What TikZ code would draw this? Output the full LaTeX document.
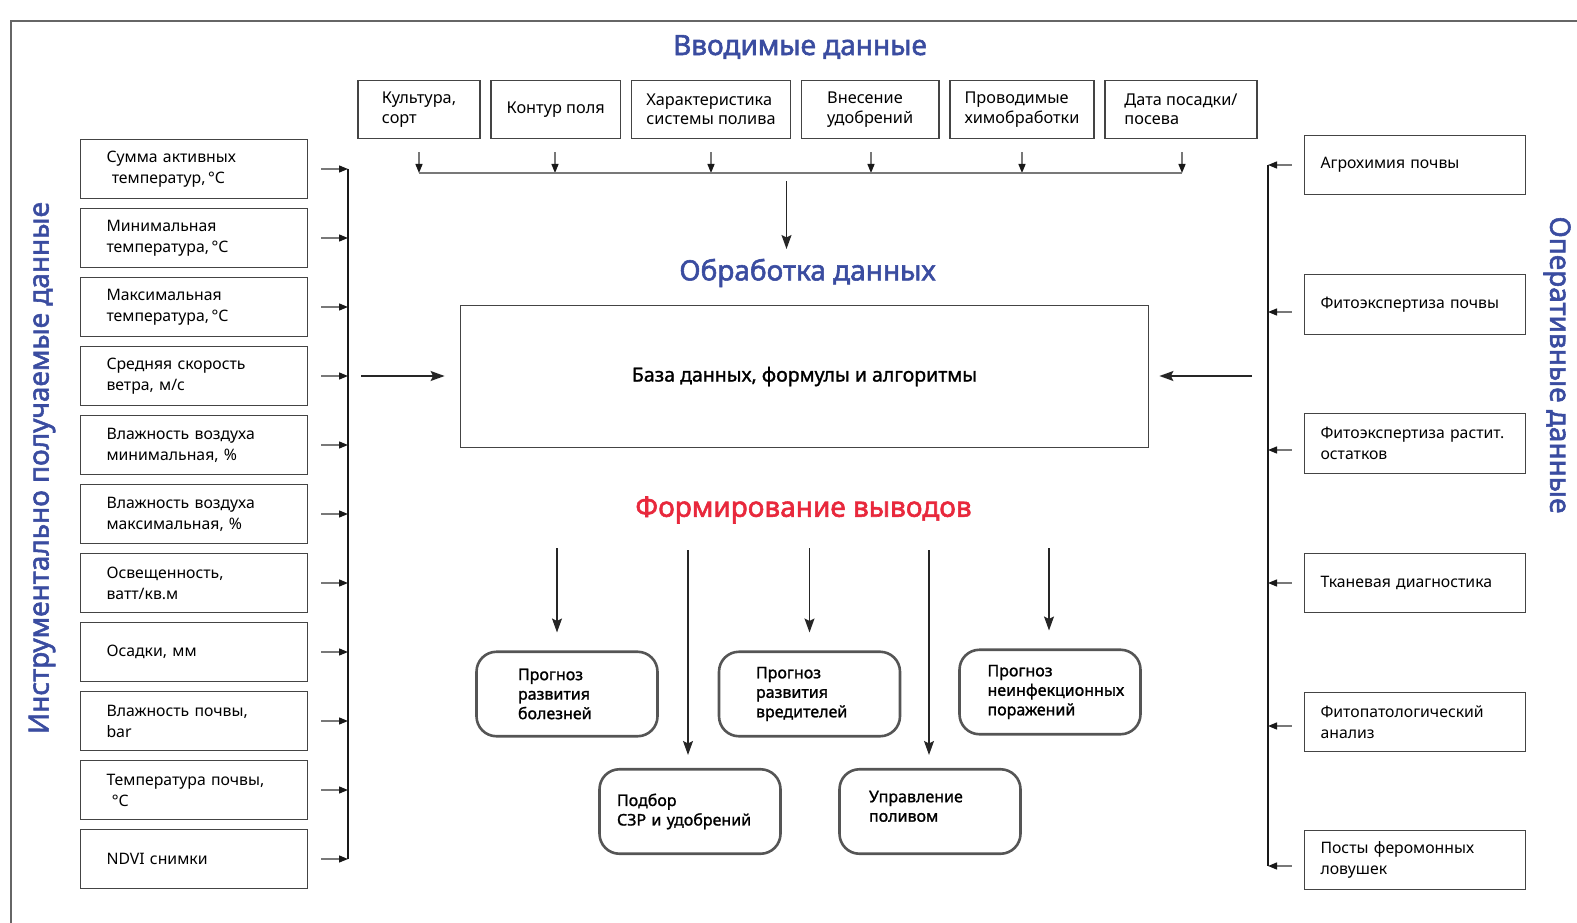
\documentclass[tikz,border=0pt]{standalone}
\usepackage{fontspec}
\setmainfont{Noto Sans}
\newfontfamily\medfont{Noto Sans}[FakeBold=1.3]
\newfontfamily\semifont{Noto Sans}[FakeBold=2]
\usetikzlibrary{arrows.meta}
\definecolor{tblue}{RGB}{58,76,160}
\definecolor{tred}{RGB}{232,40,60}
\definecolor{bord}{RGB}{68,68,68}
\definecolor{rbord}{RGB}{85,85,85}
\definecolor{lgray}{RGB}{120,120,120}
\begin{document}
\begin{tikzpicture}[x=1pt,y=-1pt,
  txt/.style={font=\fontsize{15.8}{21}\selectfont},
  lbox/.style={txt,draw=bord,line width=1.2pt,minimum width=227pt,minimum height=59.5pt,text width=175pt,align=left,inner sep=0pt},
  rbox/.style={txt,draw=bord,line width=1.2pt,minimum width=221pt,minimum height=59.5pt,text width=189pt,align=left,inner sep=0pt},
  tbox/.style={font=\fontsize{16.3}{19.5}\selectfont,draw=bord,line width=1.2pt,minimum height=58.5pt,align=left,inner sep=0pt},
  obox/.style={font=\medfont\fontsize{16}{19.5}\selectfont,draw=rbord,line width=2.6pt,rounded corners=20pt,minimum width=181pt,minimum height=84.5pt,align=left,inner sep=0pt},
  ttl/.style={font=\semifont\fontsize{28}{32}\selectfont,text=tblue},
  sarr/.style={draw=lgray,line width=1.3pt,-{Triangle[length=9pt,width=7pt,color=black!90]}},
  barr/.style={draw=black!85,line width=1.5pt,-{Stealth[length=14pt,width=10pt,inset=2.5pt]}},
  bus/.style={draw=black!90,line width=1.5pt},
  gbus/.style={draw=lgray,line width=1.8pt}]
\useasboundingbox (0,0) rectangle (1577,923);
% frame
\draw[draw=rbord!90,line width=1.8pt] (1577,21) -- (11,21) -- (11,923);

% titles
\node[ttl] (tin) at (800,47) {Вводимые данные};
\node[ttl] (tproc) at (807.5,273) {Обработка данных};
\node[ttl,text=tred] (tout) at (803.5,510) {Формирование выводов};
\node[ttl,rotate=90] (tleft) at (42,468) {Инструментально получаемые данные};
\node[ttl,rotate=-90] (tright) at (1557,365) {Оперативные данные};

% top boxes
\node[tbox,minimum width=122pt] (tb1) at (419,109.5) {Культура,\\сорт};
\node[tbox,minimum width=129.5pt] (tb2) at (555.7,109.5) {Контур поля};
\node[tbox,minimum width=159pt] (tb3) at (711,109.5) {Характеристика\\системы полива};
\node[tbox,minimum width=137.5pt] (tb4) at (870.2,109.5) {Внесение\\удобрений};
\node[tbox,minimum width=144pt] (tb5) at (1022,109.5) {Проводимые\\химобработки};
\node[tbox,minimum width=152pt] (tb6) at (1181,109.5) {Дата посадки/\\посева};
\foreach \i/\x in {1/419,2/555,3/711,4/871,5/1022,6/1182}{
  \coordinate (tt\i) at (\x,173);
  \draw[sarr,shorten <=13pt] (tb\i.south -| tt\i) -- (tt\i);
}
\draw[gbus] (tt1) -- (tt6);
\coordinate (tc1) at (786.5,181);
\coordinate (tc2) at (786.5,249);
\draw[barr] (tc1) -- (tc2);

% main box
\node[draw=bord,line width=1.8pt,minimum width=688pt,minimum height=142pt,inner sep=0pt,font=\medfont\fontsize{19.5}{22}\selectfont] (db) at (804.5,376.5) {База данных, формулы и алгоритмы};

% left boxes
\foreach \i/\t in {1/{Сумма активных\\\ температур,\,°С},2/{Минимальная\\температура,\,°С},3/{Максимальная\\температура,\,°С},4/{Средняя скорость\\ветра, м/с},5/{Влажность воздуха\\минимальная, \%},6/{Влажность воздуха\\максимальная, \%},7/{Освещенность,\\ватт/кв.м},8/{Осадки, мм},9/{Влажность почвы,\\bar},10/{Температура почвы,\\\ °С},11/{NDVI снимки}}{
  \node[lbox] (lb\i) at (194,{169+69*(\i-1)}) {\t};
  \coordinate (lj\i) at (348,{169+69*(\i-1)});
  \draw[sarr,shorten <=13pt] (lb\i.east) -- (lj\i);
}
\draw[bus] (lj1) -- (lj11);
\coordinate (lm) at (361,376);
\draw[barr,shorten >=15pt] (lm) -- (db.west |- lm);

% right boxes
\foreach \i/\yc/\ya/\t in {1/165/165/{Агрохимия почвы},2/304.5/312/{Фитоэкспертиза почвы},3/443.5/450/{Фитоэкспертиза растит.\\остатков},4/583/583/{Тканевая диагностика},5/722/726/{Фитопатологический\\анализ},6/860/866/{Посты феромонных\\ловушек}}{
  \node[rbox] (rb\i) at (1415,\yc) {\t};
  \coordinate (rj\i) at (1268,\ya);
  \draw[sarr,shorten <=12pt] (rb\i.west |- rj\i) -- (rj\i);
}
\draw[bus] (rj1) -- (rj6);
\coordinate (rm) at (1252,376);
\draw[barr,shorten >=10pt] (rm) -- (db.east |- rm);

% output boxes
\node[obox,text width=98pt] (ob1) at (567,694) {Прогноз\\развития\\болезней};
\node[obox,text width=107pt] (ob2) at (809.5,694) {Прогноз\\развития\\вредителей};
\node[obox,text width=125pt] (ob3) at (1050,692) {Прогноз\\\mbox{неинфекционных}\\поражений};
\node[obox,text width=122pt] (ob5) at (930,811.5) {Управление\\поливом\\[-9pt]\mbox{}};
\node[obox,text width=146pt] (ob4) at (690,811.5) {Подбор\\СЗР и удобрений};

\coordinate (fa1) at (557,548);
\coordinate (fa2) at (688,550);
\coordinate (fa3) at (809.5,548);
\coordinate (fa4) at (929,550);
\coordinate (fa5) at (1049,548);
\draw[barr,shorten >=18pt] (fa1) -- (fa1 |- ob1.north);
\draw[barr,shorten >=13pt] (fa2) -- (fa2 |- ob4.north);
\draw[barr,shorten >=18pt] (fa3) -- (fa3 |- ob2.north);
\draw[barr,shorten >=13pt] (fa4) -- (fa4 |- ob5.north);
\draw[barr,shorten >=18pt] (fa5) -- (fa5 |- ob3.north);
\end{tikzpicture}
\end{document}
